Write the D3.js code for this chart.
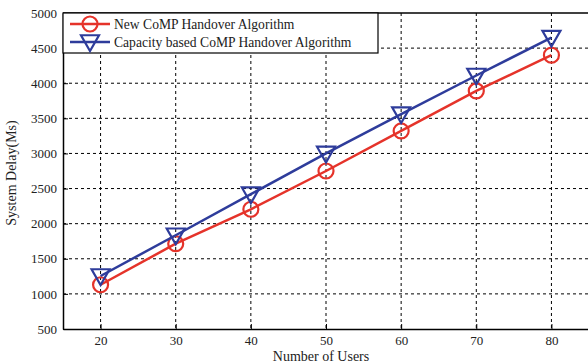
<!DOCTYPE html>
<html><head><meta charset="utf-8">
<script src="https://cdn.jsdelivr.net/npm/d3@7"></script>
<style>body{margin:0;background:#fff}svg{display:block}text{font-family:"Liberation Serif","Times New Roman",serif}</style>
</head><body>
<svg id="c" width="588" height="364"></svg>
<script>
const users = [20, 30, 40, 50, 60, 70, 80];
const newComp = [1130, 1715, 2205, 2750, 3320, 3890, 4400];
const capComp = [1255, 1835, 2420, 3000, 3560, 4110, 4650];
const xTicks = [20, 30, 40, 50, 60, 70, 80];
const yTicks = [500, 1000, 1500, 2000, 2500, 3000, 3500, 4000, 4500, 5000];
const seriesNames = ["New CoMP Handover Algorithm", "Capacity based CoMP Handover Algorithm"];

const svg = d3.select("#c");
const L = 63, R = 589, T = 13, B = 329;
const x = d3.scaleLinear().domain([15, 85]).range([L, R]);
const y = d3.scaleLinear().domain([500, 5000]).range([B, T]);
const red = "#e5332a", blue = "#2e3c9b";

// grid
const g = svg.append("g");
g.selectAll("line.vx").data(xTicks).join("line")
  .attr("x1", d => x(d)).attr("x2", d => x(d)).attr("y1", T).attr("y2", B)
  .attr("stroke", "#000").attr("stroke-width", 1).attr("stroke-dasharray", "3,3");
g.selectAll("line.hy").data(yTicks.slice(1, -1)).join("line")
  .attr("x1", L).attr("x2", R).attr("y1", d => y(d)).attr("y2", d => y(d))
  .attr("stroke", "#000").attr("stroke-width", 1).attr("stroke-dasharray", "3,3");

// axes
const xa = svg.append("g").attr("transform", `translate(0,${B})`)
  .call(d3.axisBottom(x).tickValues(xTicks).tickFormat(d3.format("d")).tickSizeInner(-5).tickSizeOuter(0).tickPadding(7));
const ya = svg.append("g").attr("transform", `translate(${L},0)`)
  .call(d3.axisLeft(y).tickValues(yTicks).tickFormat(d3.format("d")).tickSizeInner(-5).tickSizeOuter(0).tickPadding(6));
[xa, ya].forEach(a => {
  a.attr("font-family", "Liberation Serif");
  a.select(".domain").attr("stroke", "#000").attr("stroke-width", 1.5);
  a.selectAll(".tick line").attr("stroke", "#000");
  a.selectAll(".tick text").attr("font-size", 13).attr("fill", "#222")
    .attr("font-family", "Liberation Serif");
});
svg.append("line").attr("x1", L).attr("x2", R).attr("y1", T).attr("y2", T)
  .attr("stroke", "#000").attr("stroke-width", 1.5);

// labels
svg.append("text").attr("x", 321).attr("y", 361).attr("text-anchor", "middle")
  .attr("font-size", 14).attr("fill", "#222").text("Number of Users");
svg.append("text").attr("transform", "translate(16,173) rotate(-90)").attr("text-anchor", "middle")
  .attr("font-size", 14).attr("fill", "#222").text("System Delay(Ms)");

const line = d3.line().x((d, i) => x(users[i])).y(d => y(d));
const tri = (cx, cy, s) => `M${cx - s},${cy - s * 0.75}L${cx + s},${cy - s * 0.75}L${cx},${cy + s * 1.0}Z`;

function drawSeries(vals, color, marker) {
  svg.append("path").datum(vals).attr("d", line).attr("fill", "none")
    .attr("stroke", color).attr("stroke-width", 2.5);
  if (marker === "o") {
    svg.selectAll(null).data(vals).join("circle")
      .attr("cx", (d, i) => x(users[i])).attr("cy", d => y(d)).attr("r", 7.5)
      .attr("fill", "none").attr("stroke", color).attr("stroke-width", 2.2);
  } else {
    svg.selectAll(null).data(vals).join("path")
      .attr("d", (d, i) => tri(x(users[i]), y(d), 9))
      .attr("fill", "none").attr("stroke", color).attr("stroke-width", 2.2);
  }
}
drawSeries(newComp, red, "o");
drawSeries(capComp, blue, "v");

// legend
const lg = svg.append("g");
lg.append("rect").attr("x", 63).attr("y", 13).attr("width", 315).attr("height", 40)
  .attr("fill", "#fff").attr("stroke", "#000").attr("stroke-width", 1.2);
const rows = [{n: seriesNames[0], c: red, m: "o", yy: 24}, {n: seriesNames[1], c: blue, m: "v", yy: 42}];
rows.forEach(r => {
  lg.append("line").attr("x1", 70).attr("x2", 110).attr("y1", r.yy).attr("y2", r.yy)
    .attr("stroke", r.c).attr("stroke-width", 2.5);
  if (r.m === "o") lg.append("circle").attr("cx", 90).attr("cy", r.yy).attr("r", 7.5)
    .attr("fill", "none").attr("stroke", r.c).attr("stroke-width", 2.2);
  else lg.append("path").attr("d", tri(90, r.yy, 9)).attr("fill", "none")
    .attr("stroke", r.c).attr("stroke-width", 2.2);
  lg.append("text").attr("x", 114).attr("y", r.yy + 5).attr("font-size", 13.6)
    .attr("fill", "#222").text(r.n);
});
</script>
</body></html>
